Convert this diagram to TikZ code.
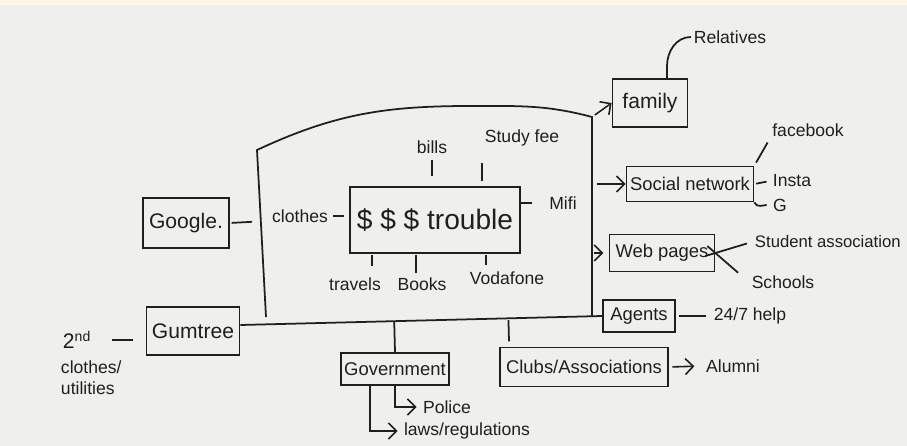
\documentclass[tikz,border=0pt]{standalone}
\usepackage{fontspec}
\setmainfont{Liberation Sans}
\usetikzlibrary{arrows.meta,positioning,calc}
\definecolor{ink}{HTML}{1F1F1F}
\definecolor{board}{HTML}{EFEFEC}
\definecolor{strip}{HTML}{FDF7E6}

\begin{document}
\begin{tikzpicture}[
  x=0.02cm,y=-0.02cm,
  box/.style={draw=ink,line width=1pt,inner sep=2pt,text=ink,font=\fontsize{10.5}{12}\selectfont},
  bigbox/.style={box,font=\fontsize{12}{14}\selectfont},
  note/.style={inner sep=1.5pt,text=ink,font=\fontsize{10}{12}\selectfont},
  tick/.style={draw=ink,line width=1pt,shorten <=1pt,shorten >=3pt},
  arrow/.style={-{Straight Barb[length=1.6mm]},draw=ink,line width=0.9pt}
]
% board
\fill[board] (0,0) rectangle (907,446);
\fill[strip] (0,0) rectangle (907,5);
\useasboundingbox (0,0) rectangle (907,446);

% boxes
\node[bigbox,minimum width=1.72cm,minimum height=1cm] (google) at (186,223) {Google.};
\node[bigbox,minimum width=1.86cm,minimum height=0.96cm] (gumtree) at (193,331) {Gumtree};
\node[box,minimum width=3.4cm,minimum height=1.32cm,font=\fontsize{16}{18}\selectfont] (trouble) at (435,220) {\$ \$ \$ trouble};
\node[bigbox,minimum width=1.5cm,minimum height=0.96cm] (family) at (650,103) {family};
\node[box,minimum width=2.52cm,minimum height=0.7cm] (social) at (690,184) {Social network};
\node[box,minimum width=2.1cm,minimum height=0.74cm] (web) at (662,253) {Web pages};
\node[box,minimum width=1.44cm,minimum height=0.64cm] (agents) at (639,316) {Agents};
\node[box,minimum width=3.36cm,minimum height=0.78cm] (clubs) at (584,367) {Clubs/Associations};
\node[box,minimum width=2.08cm,minimum height=0.64cm] (gov) at (395,369) {Government};

% labels
\node[note] (bills) at (432,147) {bills};
\node[note] (studyfee) at (522,138) {Study fee};
\node[note] (mifi) at (563,203) {Mifi};
\node[note] (clothes) at (300,216) {clothes};
\node[note] (travels) at (355,284) {travels};
\node[note] (books) at (422,284) {Books};
\node[note] (vodafone) at (507,278) {Vodafone};
\node[note] (relatives) at (730,37) {Relatives};
\node[note] (facebook) at (808,130) {facebook};
\node[note] (insta) at (792,181) {Insta};
\node[note] (g) at (780,205) {G};
\node[note,anchor=west,font=\fontsize{9.5}{11}\selectfont] (student) at (752,242) {Student association};
\node[note] (schools) at (783,282) {Schools};
\node[note] (help) at (750,316) {24/7 help};
\node[note] (alumni) at (733,366) {Alumni};
\node[note] (police) at (447,407) {Police};
\node[note] (laws) at (467,431) {laws/regulations};
\node[note,anchor=west,font=\fontsize{12}{14}\selectfont] (second) at (60,340) {2\textsuperscript{nd}};
\node[note,anchor=north west,align=left] (secondsub) at (58,358) {clothes/\\utilities};

% frame around the trouble box
\coordinate (ftl) at (257,150);
\coordinate (ftop) at (470,106);
\coordinate (ftr) at (592,117);
\coordinate (flb) at (266,317);
\coordinate (fbl) at ([yshift=0.12cm]gumtree.east);
\draw[ink,line width=1pt] (flb) -- (ftl) to[out=25,in=180] (ftop) to[out=0,in=165] (ftr) -- (ftr |- agents.west);
\draw[ink,line width=1pt] (fbl) -- (agents.west);

% ticks round the trouble box
\coordinate (tkTravels) at ([xshift=0.46cm]trouble.south west);
\coordinate (tkBooks) at ([xshift=1.34cm]trouble.south west);
\coordinate (tkVoda) at ([xshift=2.74cm]trouble.south west);
\draw[tick,shorten <=2pt,shorten >=6pt] (bills.south) -- (bills.south |- trouble.north);
\draw[tick,shorten <=8pt,shorten >=3pt] (studyfee.south west) -- (studyfee.south west |- trouble.north);
\draw[tick,shorten <=0pt,shorten >=8pt] (mifi.west -| trouble.east) -- (mifi.west);
\draw[tick] (clothes.east) -- (trouble.west |- clothes.east);
\draw[tick,shorten <=0.5pt,shorten >=5pt] (tkTravels) -- (tkTravels |- travels.north);
\draw[tick,shorten <=0.5pt,shorten >=1pt] (tkBooks) -- (tkBooks |- books.north);
\draw[tick,shorten <=0.5pt,shorten >=2pt] (tkVoda) -- (tkVoda |- vodafone.north);

% links out of the frame
\draw[tick,shorten <=1pt,shorten >=5pt] (google.east) -- ($(flb)!(google.east)!(ftl)$);
\draw[arrow,shorten <=2pt] (ftr) -- (family.west);
\draw[arrow,shorten <=3pt] (social.west -| ftr) -- (social.west);
\draw[arrow,shorten <=1pt,shorten >=3pt] (web.west -| ftr) -- (web.west);
\draw[ink,line width=1pt] (gov.north) -- ($(fbl)!(gov.north)!(agents.west)$);
\coordinate (tkClubs) at ([xshift=0.2cm]clubs.north west);
\draw[tick,shorten <=3pt,shorten >=1pt] (tkClubs) -- ($(fbl)!(tkClubs)!(agents.west)$);
\draw[tick,shorten <=10pt,shorten >=7pt] (second.east) -- (gumtree.west |- second.east);

% second level
\draw[ink,line width=1pt] ([xshift=0.34cm]family.north) -- ++(0,-12) to[out=90,in=180] (relatives.west);
\draw[tick,shorten <=2pt,shorten >=2pt] (social.north east) -- (facebook.south west);
\draw[tick,shorten <=1pt,shorten >=2pt] (social.east) -- (insta.west);
\draw[ink,line width=1pt,shorten >=2pt] (social.south east) to[out=-70,in=180] (g.west);
\draw[tick,shorten <=-6pt,shorten >=3pt] (web.east) -- (student.west);
\draw[tick,shorten <=-6pt,shorten >=8pt] (web.east) -- (schools.west);
\draw[tick,shorten <=2pt,shorten >=3pt] (agents.east) -- (help.west);
\draw[arrow,shorten <=2pt,shorten >=5pt] (clubs.east) -- (alumni.west);
\draw[arrow,shorten >=2pt] (gov.south) |- (police.west);
\draw[arrow,shorten >=2pt] ([xshift=-0.5cm]gov.south) |- (laws.west);
\end{tikzpicture}
\end{document}
